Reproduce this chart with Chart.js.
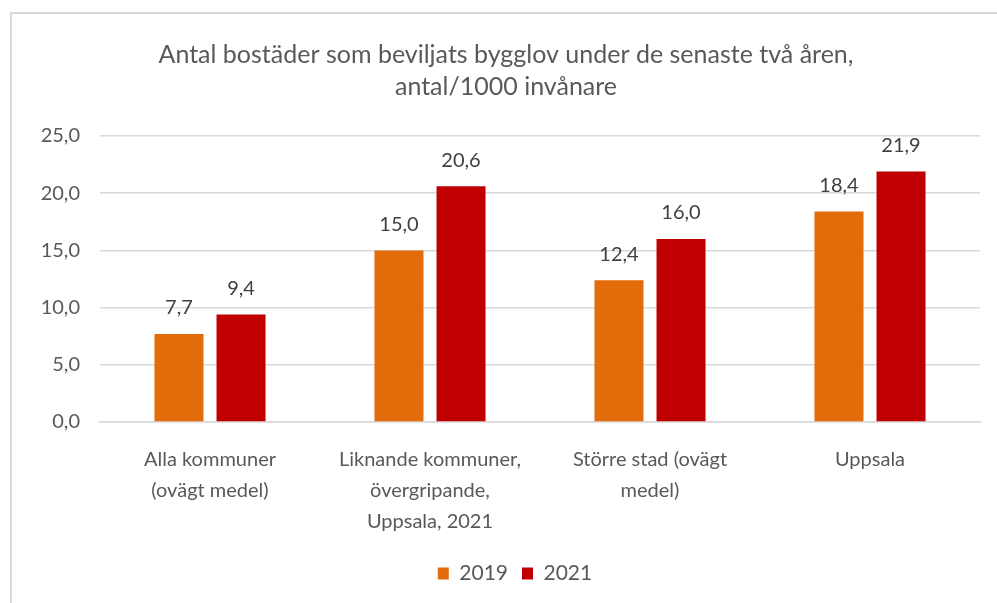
<!DOCTYPE html>
<html>
<head>
<meta charset="utf-8">
<script src="https://cdn.jsdelivr.net/npm/chart.js@4"></script>
<style>
    html, body { margin: 0; padding: 0; background: #fff; overflow: hidden; }
    .frame { position: absolute; left: 10px; top: 12px; width: 1010px; height: 620px;
             border-left: 2px solid #d9d9d9; border-top: 2px solid #d9d9d9; }
    .frame canvas { position: absolute; left: 0; top: 0; }
</style>
</head>
<body>
<div class="frame"><canvas id="bygglovChart" width="1000" height="589"></canvas></div>
<script>
const categories = [
    ['Alla kommuner', '(ovägt medel)'],
    ['Liknande kommuner,', 'övergripande,', 'Uppsala, 2021'],
    ['Större stad (ovägt', 'medel)'],
    ['Uppsala']
];
const values2019 = [7.7, 15.0, 12.4, 18.4];
const values2021 = [9.4, 20.6, 16.0, 21.9];
const yTicks = [0, 5, 10, 15, 20, 25];

const FONT = 'Lato, "Open Sans", sans-serif';
const fmt = v => v.toFixed(1).replace('.', ',');

const barLabels = {
    id: 'barLabels',
    afterDatasetsDraw(chart) {
        const ctx = chart.ctx;
        ctx.save();
        ctx.font = '20px ' + FONT;
        ctx.fillStyle = '#404040';
        ctx.textAlign = 'center';
        ctx.textBaseline = 'middle';
        chart.data.datasets.forEach((ds, i) => {
            chart.getDatasetMeta(i).data.forEach((bar, j) => {
                ctx.fillText(fmt(ds.data[j]), bar.x, bar.y - 26);
            });
        });
        ctx.restore();
    }
};

// title and legend are centred on the whole frame, not on the plot
const centreBoxes = {
    id: 'centreBoxes',
    afterLayout(chart) {
        chart.titleBlock.left += 10; chart.titleBlock.right += 10;
        chart.legend.left += 19; chart.legend.right += 19;
    }
};

new Chart(document.getElementById('bygglovChart').getContext('2d'), {
    type: 'bar',
    data: {
        labels: categories,
        datasets: [
            { label: '2019', data: values2019, backgroundColor: '#E36C0A', categoryPercentage: 0.564, barPercentage: 0.79 },
            { label: '2021', data: values2021, backgroundColor: '#C00000', categoryPercentage: 0.564, barPercentage: 0.79 }
        ]
    },
    options: {
        responsive: false, animation: false,
        layout: { padding: { left: 0, right: 32, top: 0, bottom: 9 } },
        plugins: {
            title: {
                display: true,
                text: ['Antal bostäder som beviljats bygglov under de senaste två åren,', 'antal/1000 invånare'],
                color: '#595959',
                font: { family: FONT, size: 25, weight: 'normal', lineHeight: 1.28 },
                padding: { top: 25, bottom: 33 }
            },
            legend: {
                position: 'bottom',
                labels: { color: '#595959', font: { family: FONT, size: 21 }, boxWidth: 11, boxHeight: 12, padding: 14 }
            },
            tooltip: { enabled: false }
        },
        scales: {
            y: {
                min: 0, max: 25,
                afterBuildTicks: s => { s.ticks = yTicks.map(v => ({ value: v })); },
                afterFit: s => { s.width = 88; },
                border: { display: false },
                grid: { color: '#d9d9d9', lineWidth: 1.5, drawTicks: false },
                ticks: { color: '#595959', font: { family: FONT, size: 20 }, padding: 20, callback: v => fmt(v) }
            },
            x: {
                border: { color: '#d9d9d9', width: 1.5 },
                grid: { display: false },
                afterFit: s => { s.height = 127; },
                ticks: { color: '#595959', font: { family: FONT, size: 20, lineHeight: 1.55 }, padding: 14, maxRotation: 0, autoSkip: false }
            }
        }
    },
    plugins: [barLabels, centreBoxes]
});
</script>
</body>
</html>
